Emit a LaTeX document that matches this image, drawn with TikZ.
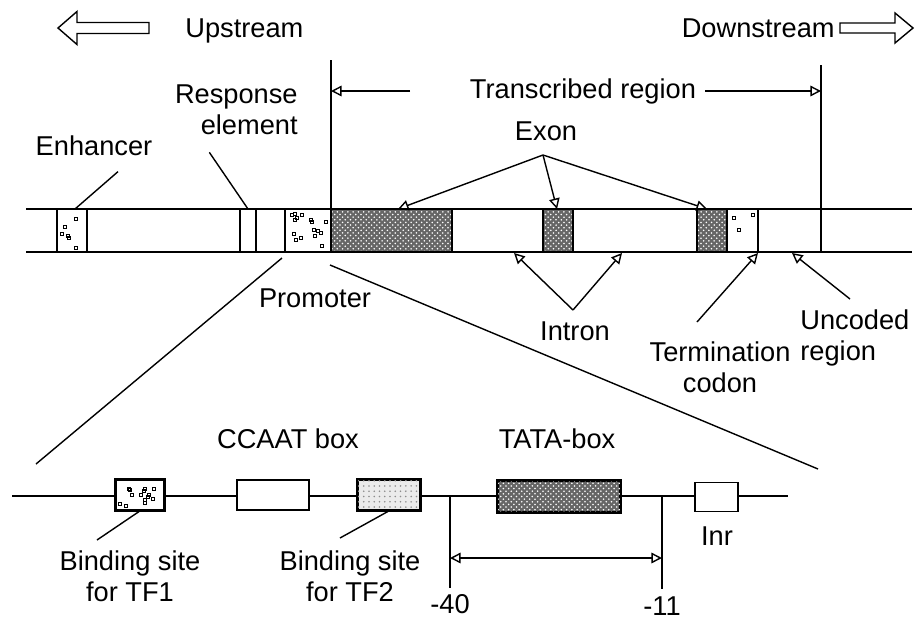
\documentclass[tikz,border=0pt]{standalone}
\usepackage{fontspec}
\setmainfont{Liberation Sans}
\usetikzlibrary{arrows.meta,patterns}
\tikzstyle{txt} = [font=\fontsize{15.5}{18}\selectfont, inner sep=0pt]
\tikzstyle{hollowarrow} = [line width=0.8pt, line join=miter]
\tikzstyle{strand} = [line width=1.1pt]
\tikzstyle{thinline} = [line width=0.8pt]
\tikzstyle{pointer} = [line width=0.8pt, -{Triangle[open,length=6pt,width=6pt]}]
\tikzstyle{span} = [line width=0.8pt, {Triangle[open,length=6pt,width=6pt]}-{Triangle[open,length=6pt,width=6pt]}]
\tikzstyle{site} = [rectangle, draw, line width=1pt, inner sep=0pt, minimum height=0.6cm]
\tikzstyle{dense} = [fill=black!60, postaction={pattern=crosshatch dots, pattern color=white}]
\tikzstyle{light} = [fill=black!8, postaction={pattern=dots, pattern color=black!45}]
% little squares scattered in a box
\newcommand{\speckle}[5]{%
  \foreach \i in {1,...,#5}{%
    \pgfmathsetmacro\sx{#1+2+rnd*(#3-#1-6)}%
    \pgfmathsetmacro\sy{#2+2+rnd*(#4-#2-6)}%
    \draw[line width=0.4pt] (\sx,\sy) rectangle ++(3,3);}}

\begin{document}
\begin{tikzpicture}[x=0.02cm, y=-0.02cm]
  \useasboundingbox (0,0) rectangle (916,623);
  \pgfmathsetseed{11}

  % direction of the strand
  \draw [hollowarrow] (58,28) -- (77,11.5) -- (77,22.5) -- (149,22.5) -- (149,33.5) -- (77,33.5) -- (77,44.5) -- cycle;
  \draw [hollowarrow] (913,28) -- (895,13) -- (895,23) -- (840,23) -- (840,33) -- (895,33) -- (895,43) -- cycle;
  \node (upt)[txt, anchor=base west] at (185,37) {Upstream};
  \node (downt)[txt, anchor=base east] at (835,37) {Downstream};

  % transcribed region
  \coordinate (tstart) at (331,60);
  \coordinate (tend) at (821,65);
  \draw [strand] (tstart) -- (331,209);
  \draw [strand] (tend) -- (821,252);
  \node (trans)[txt] at (583,91) {Transcribed region};
  \coordinate (transl) at (410,91);
  \coordinate (transr) at (705,91);
  \draw [pointer] (transl) -- (tstart |- trans);
  \draw [pointer] (transr) -- (tend |- trans);

  % the gene
  \fill [dense] (331,209) rectangle (452,252);
  \fill [dense] (543,209) rectangle (573,252);
  \fill [dense] (697,209) rectangle (727,252);
  \speckle{57}{209}{87}{252}{7}
  \speckle{285}{209}{331}{252}{16}
  \speckle{727}{209}{758}{252}{3}
  \draw [strand] (26,209) -- (912,209) (26,252) -- (912,252);
  \foreach \x in {57,87,240,256,285,331,452,543,573,697,727,758}
    \draw [strand] (\x,209) -- (\x,252);

  % labels above
  \node (enh)[txt, anchor=base] at (94,155) {Enhancer};
  \coordinate (enhbox) at (75,209);
  \draw [thinline] (enh.south) ++(24,16) -- (enhbox);
  \node (resp)[txt, anchor=north east, align=right] at (298,84) {Response\\element};
  \coordinate (respbox) at (248,209);
  \draw [thinline] (resp.south) ++(-27,17) -- (respbox);
  \node (exon)[txt, anchor=base] at (546,140) {Exon};
  \coordinate (exo) at (543,155);
  \coordinate (ex1) at (398,209);
  \coordinate (ex2) at (557,209);
  \coordinate (ex3) at (707,209);
  \draw [pointer] (exo) -- (ex1);
  \draw [pointer] (exo) -- (ex2);
  \draw [pointer] (exo) -- (ex3);

  % labels below
  \node (prom)[txt, anchor=base] at (315,307) {Promoter};
  \node (intr)[txt, anchor=base] at (575,340) {Intron};
  \coordinate (imeet) at (573,310);
  \coordinate (in1) at (514,253);
  \coordinate (in2) at (622,253);
  \draw [pointer] (imeet) -- (in1);
  \draw [pointer] (imeet) -- (in2);
  \node (term)[txt, anchor=north, align=center] at (720,341) {Termination\\codon};
  \coordinate (termfrom) at (697,322);
  \coordinate (termbox) at (758,253);
  \draw [pointer] (termfrom) -- (termbox);
  \node (unc)[txt, anchor=north west, align=left] at (800,309) {Uncoded\\region};
  \coordinate (uncfrom) at (850,299);
  \coordinate (uncbox) at (792,253);
  \draw [pointer] (uncfrom) -- (uncbox);

  % promoter enlarged
  \coordinate (pl) at (282,258);
  \coordinate (pr) at (330,265);
  \coordinate (zl) at (36,464);
  \coordinate (zr) at (818,469);
  \draw [thinline] (pl) -- (zl);
  \draw [thinline] (pr) -- (zr);

  \draw [strand] (12,496) -- (788,496);
  \node (tf1)[site, minimum width=0.96cm, fill=white] at (140,495) {};
  \speckle{116}{480}{164}{510}{14}
  \node (ccaat)[site, minimum width=1.44cm, fill=white] at (273,495) {};
  \node (tf2)[site, minimum width=1.24cm, light] at (389,495) {};
  \node (tata)[site, minimum width=2.44cm, minimum height=0.62cm, dense] at (559,496.5) {};
  \node (inr)[site, minimum width=0.86cm, minimum height=0.58cm, fill=white] at (716.5,497) {};
  \draw [line width=1pt] (tf1.north west) rectangle (tf1.south east);
  \draw [line width=1pt] (tf2.north west) rectangle (tf2.south east);
  \draw [line width=1pt] (tata.north west) rectangle (tata.south east);

  \node (ccaatt)[txt, anchor=base] at (288,448) {CCAAT box};
  \node (tatat)[txt, anchor=base] at (557,448) {TATA-box};
  \node (inrt)[txt, anchor=base] at (717,545) {Inr};
  \node (tf1t)[txt, anchor=north, align=center] at (130,550) {Binding site\\for TF1};
  \node (tf2t)[txt, anchor=north, align=center] at (350,550) {Binding site\\for TF2};
  \draw [thinline] (tf1t.north) ++(-33,-10) -- (tf1.south);
  \draw [thinline] (tf2t.north) ++(-10,-12) -- (tf2.south);

  % -40 to -11
  \coordinate (m40) at (450,496);
  \coordinate (m11) at (662,496);
  \draw [strand] (m40) -- ++(0,92);
  \draw [strand] (m11) -- ++(0,93);
  \draw [span] (450,558) -- (662,558);
  \node (m40t)[txt, anchor=base] at (450,613) {-40};
  \node (m11t)[txt, anchor=base] at (662,615) {-11};
\end{tikzpicture}
\end{document}
